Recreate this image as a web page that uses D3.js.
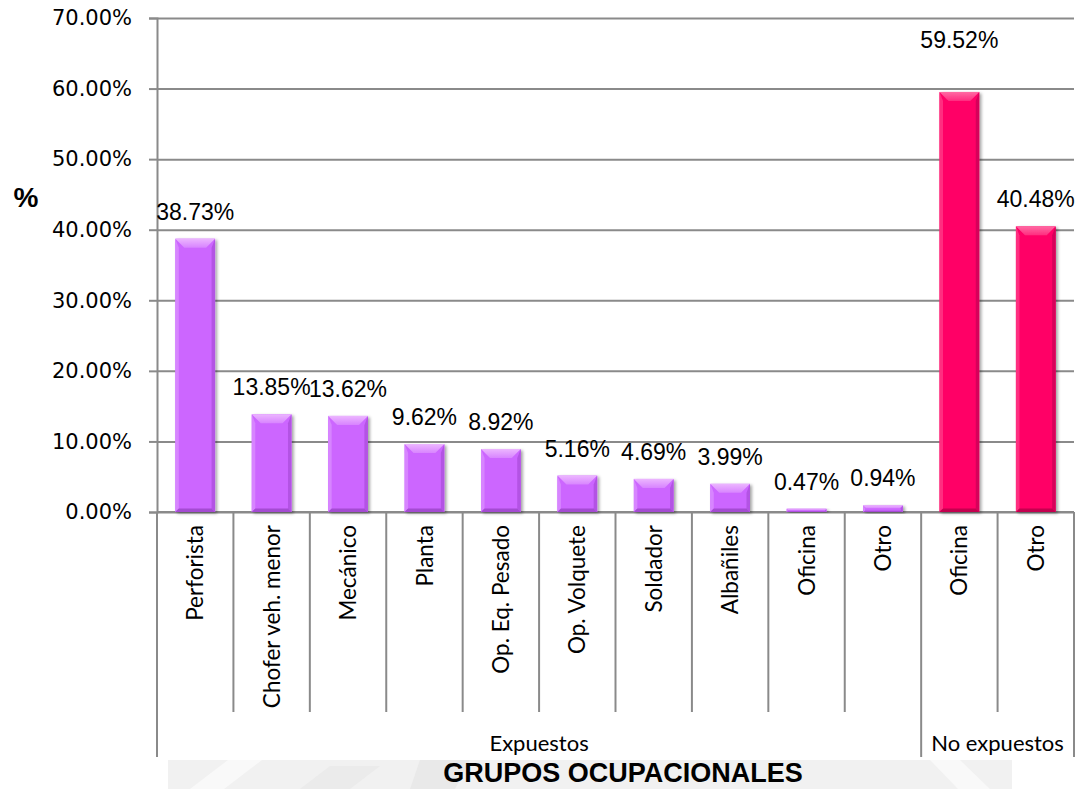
<!DOCTYPE html>
<html>
<head>
<meta charset="utf-8">
<script src="https://cdn.jsdelivr.net/npm/d3@7/dist/d3.min.js"></script>
<style>
  html, body { margin: 0; padding: 0; background: #ffffff; }
  svg { display: block; }
</style>
</head>
<body>
<svg id="chart" width="1083" height="789"></svg>
<script>
// Occupational groups and the share (%) of each
const categories = ["Perforista", "Chofer veh. menor", "Mecánico", "Planta", "Op. Eq. Pesado",
  "Op. Volquete", "Soldador", "Albañiles", "Oficina", "Otro", "Oficina", "Otro"];
const groups = ["Expuestos", "Expuestos", "Expuestos", "Expuestos", "Expuestos",
  "Expuestos", "Expuestos", "Expuestos", "Expuestos", "Expuestos", "No expuestos", "No expuestos"];
const values = [38.73, 13.85, 13.62, 9.62, 8.92, 5.16, 4.69, 3.99, 0.47, 0.94, 59.52, 40.48];
const yTicks = [0, 10, 20, 30, 40, 50, 60, 70];
const groupNames = ["Expuestos", "No expuestos"];

const svg = d3.select("#chart");
const plotLeft = 157, plotRight = 1074, plotTop = 18, plotBase = 512;
const keys = categories.map((c, i) => i);

const x = d3.scaleBand().domain(keys).range([plotLeft, plotRight]).padding(0);
const y = d3.scaleLinear().domain([0, 70]).range([plotBase, plotTop]);
const fmt = v => v.toFixed(2) + "%";

// faint emblem band behind the axis title
const wm = svg.append("g").attr("class", "watermark");
wm.append("rect").attr("x", 168).attr("y", 760).attr("width", 844).attr("height", 29).attr("fill", "#f1f1f1");
wm.append("path").attr("d", "M190,789 L228,760 L262,760 L224,789 Z").attr("fill", "#f9f9f9");
wm.append("path").attr("d", "M930,760 L960,760 L990,789 L958,789 Z").attr("fill", "#f9f9f9");
wm.append("path").attr("d", "M420,760 L470,760 L455,789 L410,789 Z").attr("fill", "#e9e9e9");
wm.append("path").attr("d", "M300,789 L330,766 L380,766 L350,789 Z").attr("fill", "#ebebeb");

// shadow filter for bars
const defs = svg.append("defs");
const f = defs.append("filter").attr("id", "shadow").attr("x", "-20%").attr("y", "-20%").attr("width", "150%").attr("height", "150%");
f.append("feDropShadow").attr("dx", 2).attr("dy", 1.5).attr("stdDeviation", 1.5)
  .attr("flood-color", "#000").attr("flood-opacity", 0.35);

const palette = {
  "Expuestos": { face: "#cc66ff", topA: "#ecb6ff", topB: "#d884ff", left: "#d785ff", right: "#b352e4", bottom: "#a44bd2" },
  "No expuestos": { face: "#ff0066", topA: "#ff6aa3", topB: "#ff2b7f", left: "#ff2f80", right: "#d6005a", bottom: "#c4004f" }
};
groupNames.forEach((g, i) => {
  const lg = defs.append("linearGradient").attr("id", "topgrad" + i).attr("x1", 0).attr("y1", 0).attr("x2", 0).attr("y2", 1);
  lg.append("stop").attr("offset", "0%").attr("stop-color", palette[g].topA);
  lg.append("stop").attr("offset", "100%").attr("stop-color", palette[g].topB);
});

// gridlines
const gridColor = "#8a8a8a";
svg.append("g")
  .attr("transform", `translate(${plotLeft},0)`)
  .call(d3.axisLeft(y).tickValues(yTicks).tickSize(-(plotRight - plotLeft)).tickFormat(""))
  .call(g => g.select(".domain").remove())
  .call(g => g.selectAll("line").attr("stroke", gridColor).attr("stroke-width", 2));

// y axis with labels
svg.append("g")
  .attr("transform", `translate(${plotLeft},0)`)
  .call(d3.axisLeft(y).tickValues(yTicks).tickSize(8).tickPadding(17).tickFormat(fmt))
  .call(g => g.select(".domain").attr("stroke", gridColor).attr("stroke-width", 2))
  .call(g => g.selectAll("line").attr("stroke", gridColor).attr("stroke-width", 2))
  .call(g => g.selectAll("text").attr("font-family", "DejaVu Sans").attr("font-size", 21).attr("fill", "#000"));

// y axis title
svg.append("text").attr("x", 26).attr("y", 207).attr("text-anchor", "middle")
  .attr("font-family", "Liberation Sans, Arial").attr("font-weight", "bold").attr("font-size", 28).text("%");

// category axis: baseline, separators and labels
svg.append("line").attr("x1", plotLeft).attr("x2", plotRight).attr("y1", plotBase).attr("y2", plotBase)
  .attr("stroke", gridColor).attr("stroke-width", 2);

const bounds = keys.map(k => x(k)).concat([plotRight]);
const groupEdges = new Set([0, categories.length]);
groups.forEach((g, i) => { if (i > 0 && g !== groups[i - 1]) groupEdges.add(i); });
svg.append("g").selectAll("line").data(bounds).join("line")
  .attr("x1", d => d).attr("x2", d => d)
  .attr("y1", plotBase)
  .attr("y2", (d, i) => groupEdges.has(i) ? 757 : 712)
  .attr("stroke", gridColor).attr("stroke-width", 2);

svg.append("g").selectAll("text").data(keys).join("text")
  .attr("transform", k => `translate(${x(k) + x.bandwidth() / 2},525) rotate(-90)`)
  .attr("text-anchor", "end").attr("dy", "0.36em")
  .attr("font-family", "Lato, Carlito, Calibri, sans-serif").attr("font-size", 22.5).attr("fill", "#000")
  .text(k => categories[k]);

// group labels
groupNames.forEach(g => {
  const idx = keys.filter(k => groups[k] === g);
  const gx0 = x(idx[0]), gx1 = x(idx[idx.length - 1]) + x.bandwidth();
  svg.append("text").attr("x", (gx0 + gx1) / 2).attr("y", 751).attr("text-anchor", "middle")
    .attr("font-family", "Lato, Carlito, Calibri, sans-serif").attr("font-size", 22).attr("fill", "#000")
    .text(g);
});

// x axis title
svg.append("text").attr("x", 623).attr("y", 782).attr("text-anchor", "middle")
  .attr("font-family", "Liberation Sans, Arial").attr("font-weight", "bold").attr("font-size", 27).attr("fill", "#000")
  .text("GRUPOS OCUPACIONALES");

// bevelled bars
const barW = x.bandwidth() * 0.52;
const bars = svg.append("g").selectAll("g").data(keys).join("g").attr("filter", "url(#shadow)");
bars.each(function (k) {
  const g = d3.select(this);
  const p = palette[groups[k]];
  const gi = groupNames.indexOf(groups[k]);
  const x0 = x(k) + (x.bandwidth() - barW) / 2, x1 = x0 + barW;
  const y0 = y(values[k]), y1 = y(0);
  const h = y1 - y0;
  const bt = Math.min(9, h * 0.45), bs = Math.min(3.5, h * 0.3), bb = Math.min(3.5, h * 0.2);
  g.append("rect").attr("x", x0).attr("y", y0).attr("width", barW).attr("height", h).attr("fill", p.face);
  g.append("path").attr("d", `M${x0},${y0} L${x0 + bs},${y0 + bt} L${x0 + bs},${y1 - bb} L${x0},${y1} Z`).attr("fill", p.left);
  g.append("path").attr("d", `M${x1},${y0} L${x1 - bs},${y0 + bt} L${x1 - bs},${y1 - bb} L${x1},${y1} Z`).attr("fill", p.right);
  g.append("path").attr("d", `M${x0},${y1} L${x0 + bs},${y1 - bb} L${x1 - bs},${y1 - bb} L${x1},${y1} Z`).attr("fill", p.bottom);
  g.append("path").attr("d", `M${x0},${y0} L${x1},${y0} L${x1 - Math.max(bt, bs)},${y0 + bt} L${x0 + Math.max(bt, bs)},${y0 + bt} Z`)
    .attr("fill", `url(#topgrad${gi})`);
});

// value labels above the bars
const lift = k => (values[k] > 50 ? 44 : 19);
svg.append("g").selectAll("text").data(keys).join("text")
  .attr("x", k => x(k) + x.bandwidth() / 2)
  .attr("y", k => y(values[k]) - lift(k))
  .attr("text-anchor", "middle")
  .attr("font-family", "Liberation Sans, Arial").attr("font-size", 23).attr("fill", "#000")
  .text(k => fmt(values[k]));
</script>
</body>
</html>
